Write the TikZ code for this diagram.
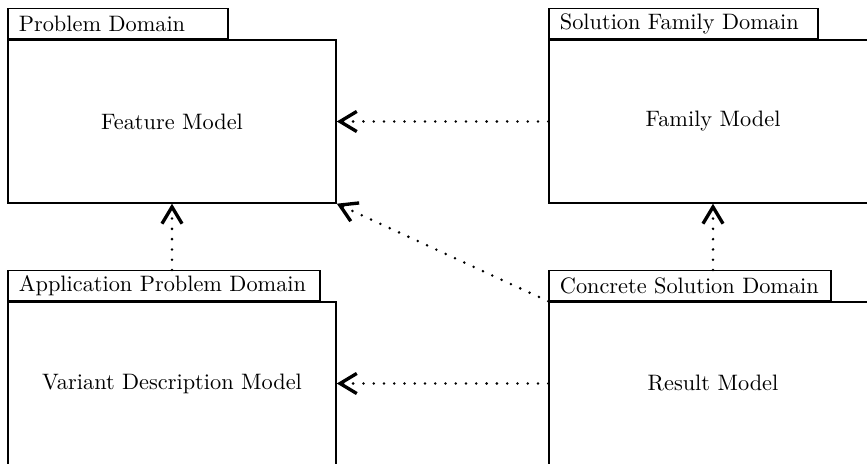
\documentclass[tikz,border=0pt]{standalone}
\usetikzlibrary{arrows.meta}
\begin{document}
\begin{tikzpicture}[x=0.448pt,y=-0.448pt,
  body/.style={draw, line width=0.65pt, rectangle, inner sep=0pt,
    minimum width=147pt, minimum height=73pt},
  tab/.style={draw, line width=0.65pt, rectangle, anchor=south west,
    inner xsep=4.9pt, inner ysep=0pt, minimum height=13.4pt, align=left},
  dep/.style={line width=1.25pt, line cap=round, dash pattern=on 0pt off 4.6pt,
    -{Straight Barb[length=7.5pt,width=9pt,line width=1.5pt]}}]
  \useasboundingbox (0,0) rectangle (867,464);
  \clip (0,0) rectangle (867,464);

  % package bodies
  \node[body] (fm)  at (172,121.5) {Feature Model};
  \node[body] (fam) at (713,121.5) {Family Model};
  \node[body] (vd)  at (172,383.5) {Variant Description Model};
  \node[body] (res) at (713,383.5) {Result Model};

  % package tabs
  \node[tab, text width=88.8pt]  (pd)  at (fm.north west)  {Problem Domain};
  \node[tab, text width=110.7pt] (sfd) at (fam.north west) {Solution Family Domain};
  \node[tab, text width=130pt]   (apd) at (vd.north west)  {Application Problem Domain};
  \node[tab, text width=116.5pt] (csd) at (res.north west) {Concrete Solution Domain};

  % dependencies
  \draw[dep] (fam.west) -- (fm.east);
  \draw[dep] (res.north west) -- (fm.south east);
  \draw[dep] (res.west) -- (vd.east);
  \draw[dep] (vd.north |- apd.north) -- (fm.south);
  \draw[dep] (res.north |- csd.north) -- (fam.south);
\end{tikzpicture}
\end{document}
